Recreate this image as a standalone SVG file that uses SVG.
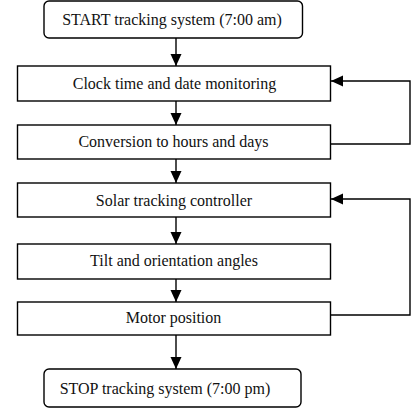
<svg xmlns="http://www.w3.org/2000/svg" width="415" height="412" viewBox="0 0 415 412">
<style>
.box{fill:#fff;stroke:#000;stroke-width:1.4}
.lbl{font-family:"Liberation Serif","Times New Roman",serif;font-size:16px;fill:#111;text-anchor:middle}
.con{fill:none;stroke:#000;stroke-width:1.4}
</style>
<defs>
<marker id="ah" markerUnits="userSpaceOnUse" markerWidth="12" markerHeight="12" viewBox="0 0 12 12" refX="12" refY="6" orient="auto">
<path d="M0,0.5 L12,6 L0,11.5 Z" fill="#000"/>
</marker>
</defs>
<rect width="415" height="412" fill="#fff"/>
<g id="connectors">
<line class="con" x1="176" y1="38" x2="176" y2="66" marker-end="url(#ah)"/>
<line class="con" x1="176" y1="101" x2="176" y2="125" marker-end="url(#ah)"/>
<line class="con" x1="176" y1="159" x2="176" y2="183" marker-end="url(#ah)"/>
<line class="con" x1="176" y1="217" x2="176" y2="244" marker-end="url(#ah)"/>
<line class="con" x1="176" y1="279" x2="176" y2="302" marker-end="url(#ah)"/>
<line class="con" x1="176" y1="335" x2="176" y2="369" marker-end="url(#ah)"/>
<polyline class="con" points="331,144 410,144 410,81 331,81" marker-end="url(#ah)"/>
<polyline class="con" points="331,315 410,315 410,199 331,199" marker-end="url(#ah)"/>
</g>
<g id="start">
<rect class="box" x="44" y="1" width="258.5" height="37" rx="5"/>
<text class="lbl" x="172" y="25">START tracking system (7:00 am)</text>
</g>
<g id="clock">
<rect class="box" x="17.5" y="66" width="313" height="35"/>
<text class="lbl" x="174.5" y="89">Clock time and date monitoring</text>
</g>
<g id="conversion">
<rect class="box" x="17.5" y="125" width="313" height="34"/>
<text class="lbl" x="173.5" y="147">Conversion to hours and days</text>
</g>
<g id="solar">
<rect class="box" x="17.5" y="183" width="313" height="34"/>
<text class="lbl" x="174" y="206">Solar tracking controller</text>
</g>
<g id="tilt">
<rect class="box" x="17.5" y="244" width="313" height="35"/>
<text class="lbl" x="174" y="266">Tilt and orientation angles</text>
</g>
<g id="motor">
<rect class="box" x="17.5" y="302" width="313" height="33"/>
<text class="lbl" x="173.5" y="323">Motor position</text>
</g>
<g id="stop">
<rect class="box" x="44" y="369" width="257" height="38" rx="5"/>
<text class="lbl" x="165" y="394">STOP tracking system (7:00 pm)</text>
</g>
</svg>
